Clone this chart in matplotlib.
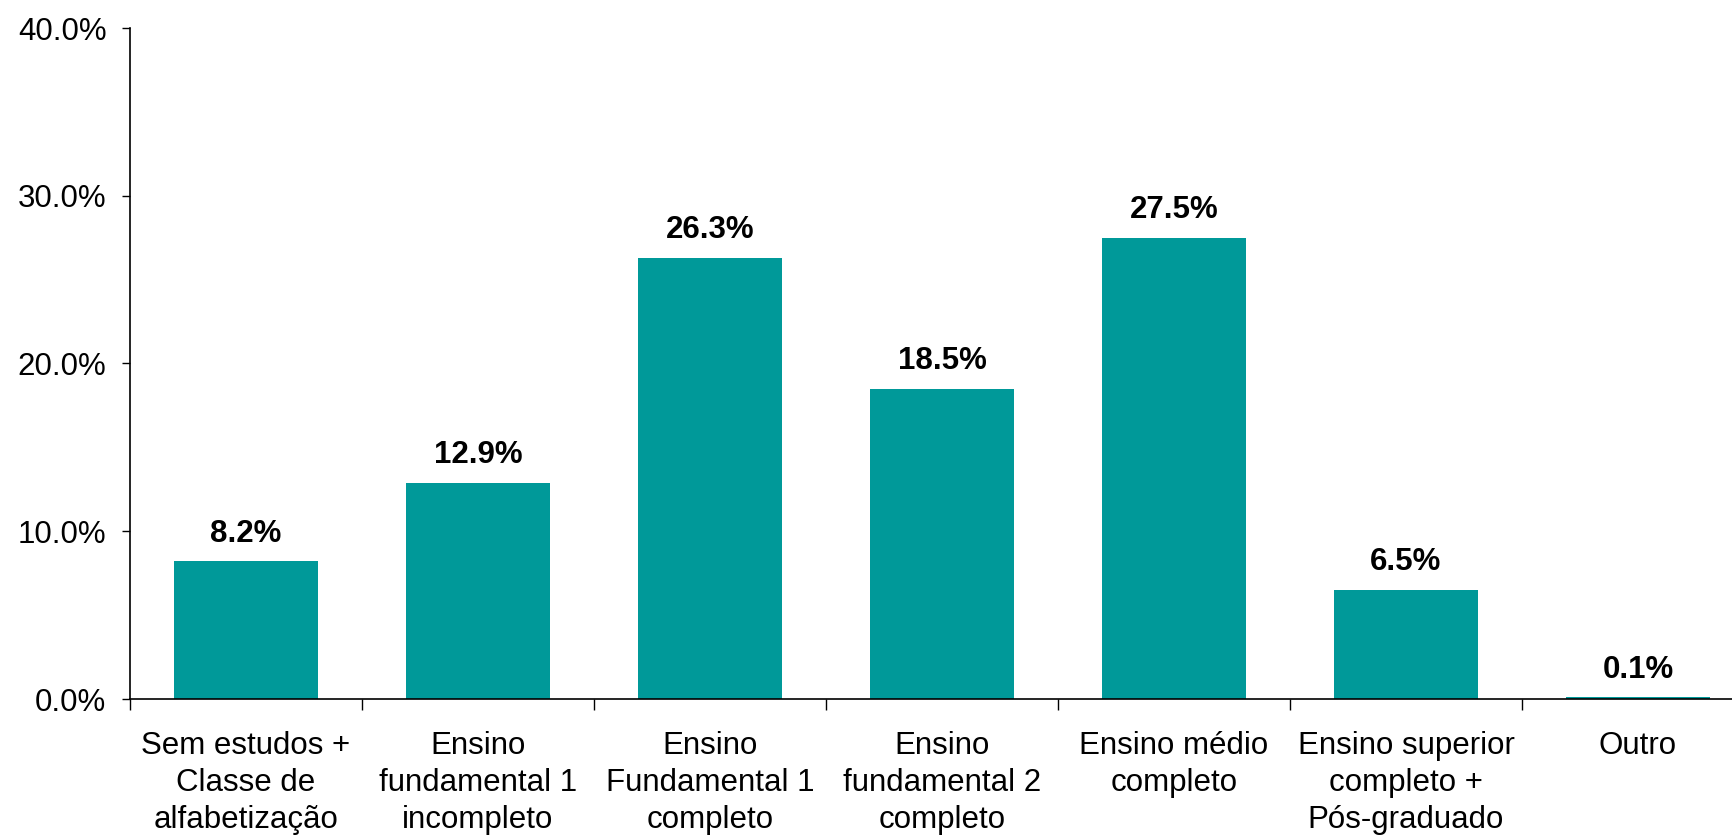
import matplotlib.pyplot as plt
from matplotlib.ticker import FuncFormatter

plt.rcParams['font.family'] = ['Liberation Sans', 'DejaVu Sans']

categorias = ["Sem estudos +\nClasse de\nalfabetização",
              "Ensino\nfundamental 1\nincompleto",
              "Ensino\nFundamental 1\ncompleto",
              "Ensino\nfundamental 2\ncompleto",
              "Ensino médio\ncompleto",
              "Ensino superior\ncompleto +\nPós-graduado",
              "Outro"]
valores = [8.2, 12.9, 26.3, 18.5, 27.5, 6.5, 0.1]
y_ticks = [0, 10, 20, 30, 40]

fig = plt.figure(figsize=(17.33, 8.38), dpi=100)
# aksene går litt ut over høyre kant, som i originalen
ax = fig.add_axes([130/1733, 1 - 699/838, 1624/1733, 671/838])

x = range(len(valores))
ax.bar(x, valores, width=0.62, color="#009999", zorder=2)

for i, v in enumerate(valores):
    ax.annotate(f"{v:.1f}%", (i, v), xytext=(0, 9), textcoords="offset points",
                ha="center", va="bottom", fontsize=22.5, fontweight="bold")

ax.set_xlim(-0.5, len(valores) - 0.5)
ax.set_ylim(0, 40)
ax.set_yticks(y_ticks)
ax.yaxis.set_major_formatter(FuncFormatter(lambda v, p: f"{v:.1f}%"))
ax.tick_params(axis="y", labelsize=22.5, length=6, width=1, pad=11, direction="out")

# kategorinavn i midten, tick-streker mellom kategoriene
ax.set_xticks(list(x))
ax.set_xticklabels(categorias, fontsize=22.5, linespacing=1.3)
ax.tick_params(axis="x", which="major", length=0, pad=23)
ax.set_xticks([i + 0.5 for i in range(-1, len(valores))], minor=True)
ax.tick_params(axis="x", which="minor", length=8, width=1, direction="out")

for s in ["top", "right"]:
    ax.spines[s].set_visible(False)
ax.spines["left"].set_linewidth(1.2)
ax.spines["bottom"].set_linewidth(1.2)

fig.savefig("out.png", dpi=100)
